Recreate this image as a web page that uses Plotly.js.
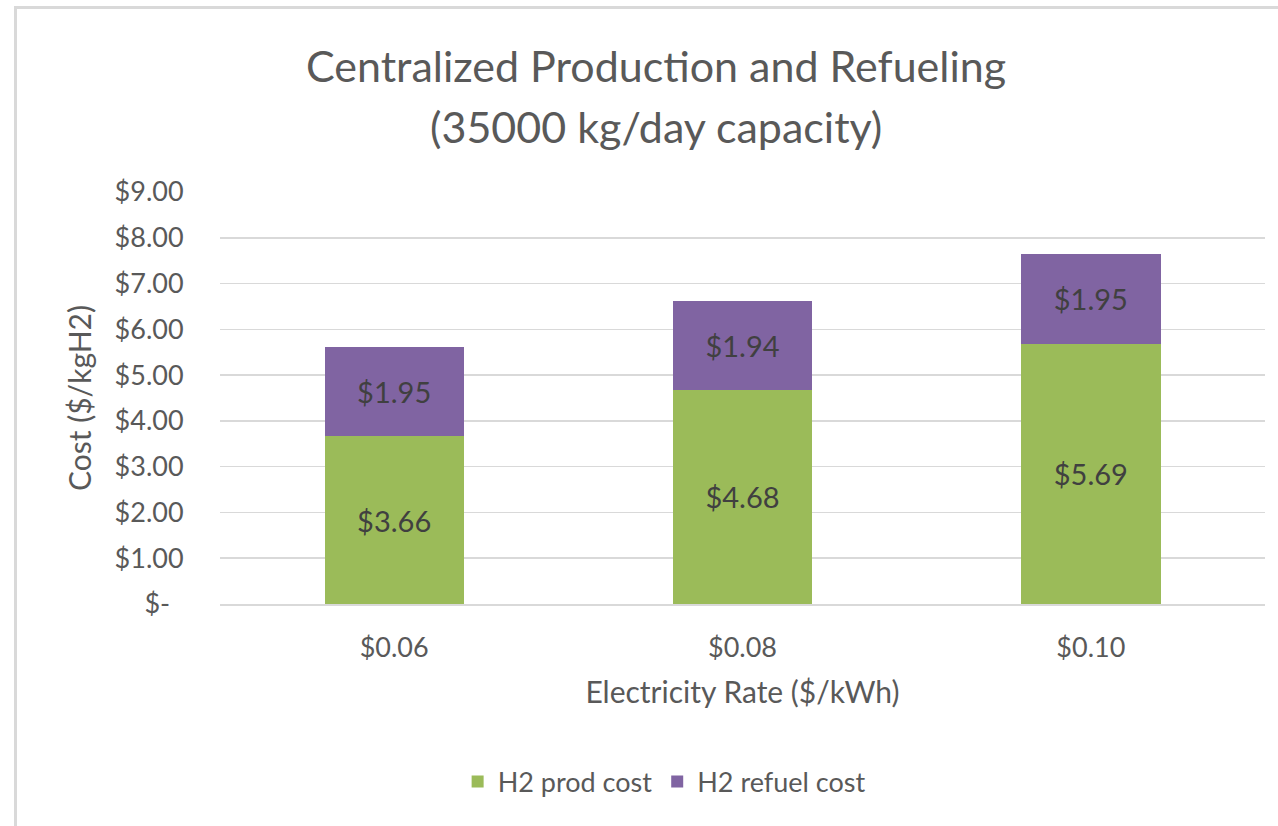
<!DOCTYPE html>
<html>
<head>
<meta charset="utf-8">
<script src="https://cdn.plot.ly/plotly-3.0.1.min.js"></script>
<style>
  html, body { margin: 0; padding: 0; background: #ffffff; }
  #wrap { position: relative; width: 1278px; height: 826px; overflow: hidden; }
  #chart { position: absolute; left: 0; top: 0; width: 1278px; height: 826px; }
  #frame { position: absolute; left: 14px; top: 6px; width: 1300px; height: 900px;
           border-top: 3px solid #d9d9d9; border-left: 3px solid #d9d9d9; pointer-events: none; }
</style>
</head>
<body>
<div id="wrap">
  <div id="chart"></div>
  <div id="frame"></div>
</div>
<script>
const categories = ["$0.06", "$0.08", "$0.10"];
const prodCost = [3.66, 4.68, 5.69];
const refuelCost = [1.95, 1.94, 1.95];
const yTickVals = [0, 1, 2, 3, 4, 5, 6, 7, 8, 9];
const yTickText = ["$-\u2002", "$1.00", "$2.00", "$3.00", "$4.00", "$5.00", "$6.00", "$7.00", "$8.00", "$9.00"];
const seriesNames = ["H2 prod cost", "H2 refuel cost"];
const titleLines = ["Centralized Production and Refueling", "(35000 kg/day capacity)"];

const FONT = "Lato, 'Open Sans', sans-serif";
const GRAY = "#595959";

const traces = [
  {
    type: "bar", name: seriesNames[0], x: categories, y: prodCost,
    marker: { color: "#9bbb59" },
    texttemplate: "$%{y:.2f}", textposition: "inside", insidetextanchor: "middle",
    textfont: { family: FONT, size: 29, color: "#404040" }, hoverinfo: "skip"
  },
  {
    type: "bar", name: seriesNames[1], x: categories, y: refuelCost,
    marker: { color: "#8064a2" },
    texttemplate: "$%{y:.2f}", textposition: "inside", insidetextanchor: "middle",
    textfont: { family: FONT, size: 29, color: "#404040" }, hoverinfo: "skip"
  }
];

const layout = {
  width: 1278, height: 826,
  paper_bgcolor: "rgba(0,0,0,0)", plot_bgcolor: "#ffffff",
  margin: { l: 220, r: 13, t: 192, b: 222 },
  barmode: "stack", bargap: 0.6,
  font: { family: FONT, color: GRAY },
  annotations: [
    { text: titleLines[0], xref: "paper", yref: "paper", x: 0.417, y: (604 - 65) / 412,
      xanchor: "center", yanchor: "middle", showarrow: false,
      font: { family: FONT, size: 43, color: GRAY } },
    { text: titleLines[1], xref: "paper", yref: "paper", x: 0.417, y: (604 - 127) / 412,
      xanchor: "center", yanchor: "middle", showarrow: false,
      font: { family: FONT, size: 43, color: GRAY } }
  ],
  xaxis: {
    type: "category",
    showgrid: false, showline: true, linecolor: "#d9d9d9", linewidth: 1.5,
    ticks: "outside", ticklen: 19, tickcolor: "rgba(0,0,0,0)",
    tickfont: { family: FONT, size: 27, color: GRAY },
    title: { text: "Electricity Rate ($/kWh)", font: { family: FONT, size: 30, color: GRAY }, standoff: 20 }
  },
  yaxis: {
    range: [0, 9], tickvals: yTickVals, ticktext: yTickText,
    showgrid: true, gridcolor: "#d9d9d9", gridwidth: 1.5, zeroline: false,
    showline: false,
    ticks: "outside", ticklen: 30, tickcolor: "rgba(0,0,0,0)",
    tickfont: { family: FONT, size: 27, color: GRAY },
    title: { text: "Cost ($/kgH2)", font: { family: FONT, size: 30, color: GRAY }, standoff: 14 }
  },
  showlegend: true,
  legend: {
    orientation: "h", x: 0.425, xanchor: "center", y: -0.432, yanchor: "middle",
    font: { family: FONT, size: 27, color: GRAY }, traceorder: "normal",
    itemwidth: 30, bgcolor: "rgba(0,0,0,0)"
  }
};

Plotly.newPlot("chart", traces, layout, { displayModeBar: false, staticPlot: true });
</script>
</body>
</html>
